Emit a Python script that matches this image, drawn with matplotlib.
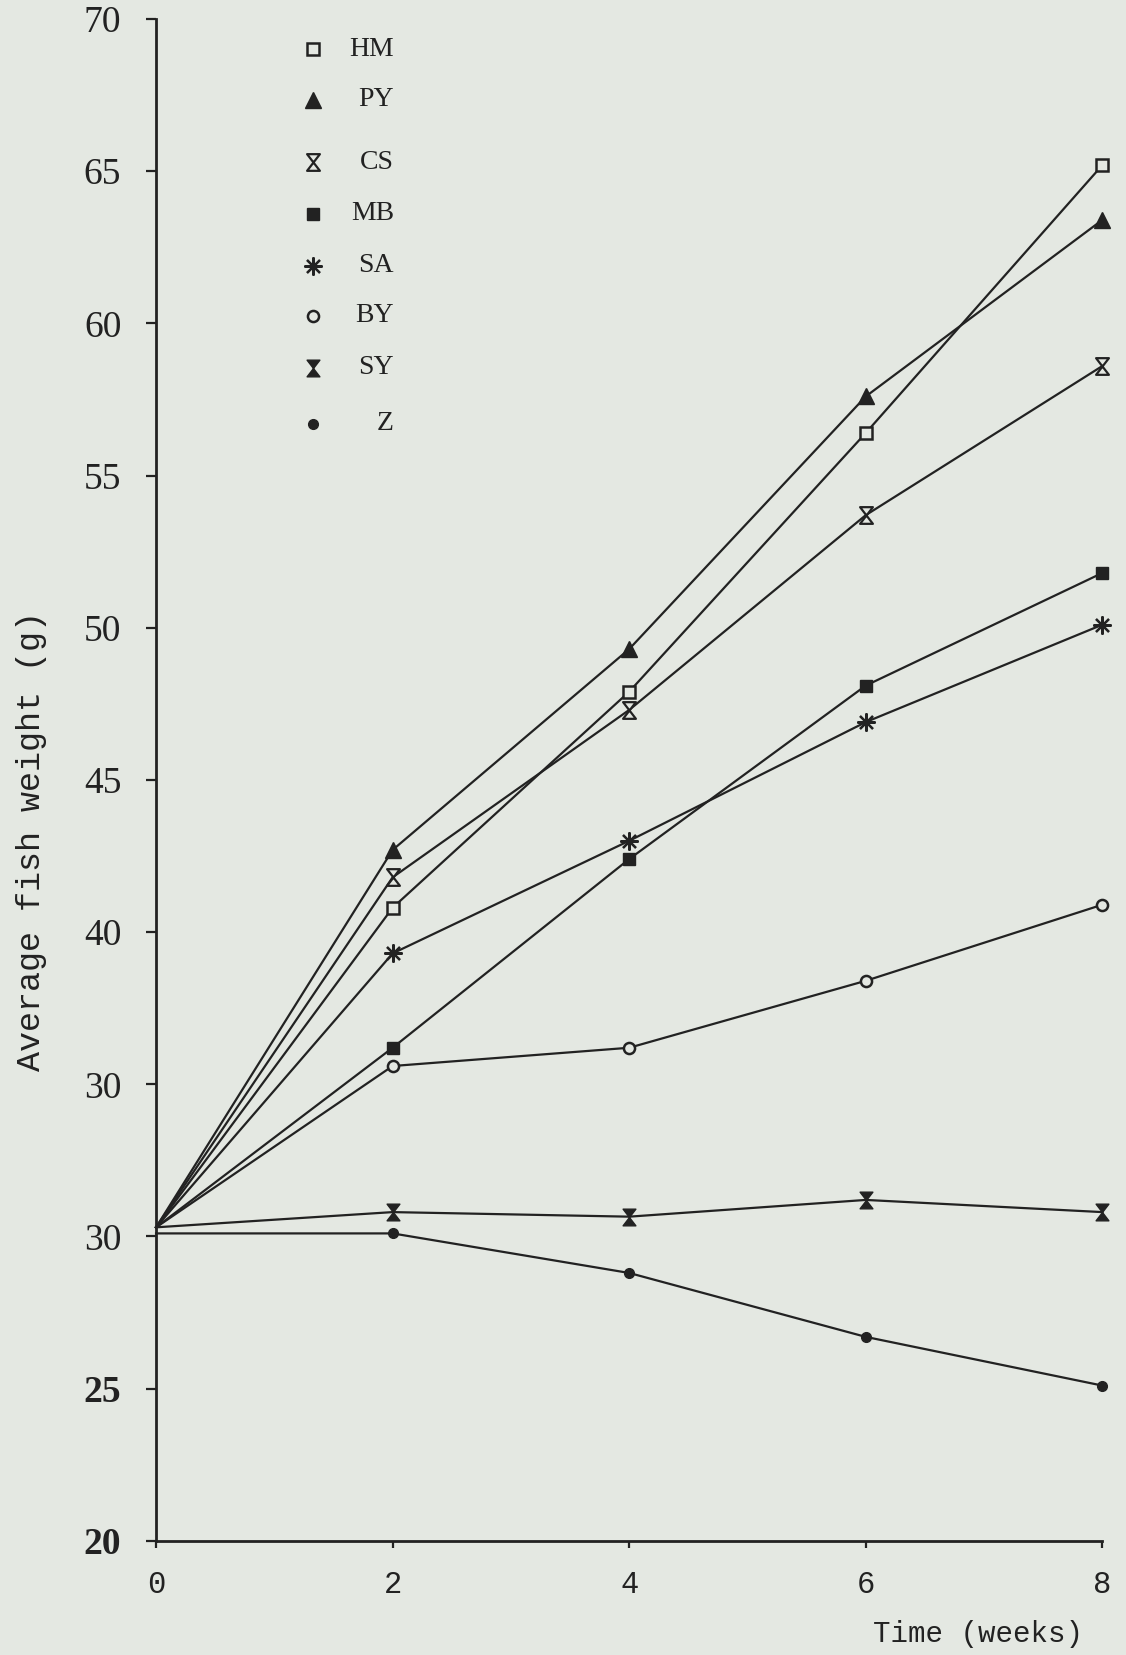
import matplotlib
matplotlib.use("Agg")
import matplotlib.pyplot as plt
from matplotlib.path import Path

# data
weeks = [0, 2, 4, 6, 8]
labels = ["HM", "PY", "CS", "MB", "SA", "BY", "SY", "Z"]
hm = [30.3, 40.8, 47.9, 56.4, 65.2]
py = [30.3, 42.7, 49.3, 57.6, 63.4]
cs = [30.3, 41.8, 47.3, 53.7, 58.6]
mb = [30.3, 36.2, 42.4, 48.1, 51.8]
sa = [30.3, 39.3, 43.0, 46.9, 50.1]
by = [30.3, 35.6, 36.2, 38.4, 40.9]
sy = [30.3, 30.8, 30.65, 31.2, 30.8]
z = [30.1, 30.1, 28.8, 26.7, 25.1]
y_ticks = [20, 25, 30, 35, 40, 45, 50, 55, 60, 65, 70]
y_ticklabels = ["20", "25", "30", "30", "40", "45", "50", "55", "60", "65", "70"]
x_ticks = [0, 2, 4, 6, 8]

INK = "#222222"
PAPER = "#e4e8e2"
SERIF = "Liberation Serif"
MONO = "Liberation Mono"

# hourglass marker (two triangles tip to tip)
hourglass = Path([(-1, 1.3), (1, 1.3), (0, 0), (-1, -1.3), (1, -1.3), (0, 0), (-1, 1.3)],
                 [Path.MOVETO, Path.LINETO, Path.LINETO, Path.LINETO, Path.LINETO,
                  Path.LINETO, Path.CLOSEPOLY])

styles = [
    dict(marker="s", ms=8, mfc=PAPER, mew=1.8),
    dict(marker="^", ms=11, mfc=INK, mew=1.0),
    dict(marker=hourglass, ms=12, mfc=PAPER, mew=1.6),
    dict(marker="s", ms=9, mfc=INK, mew=1.0),
    dict(marker=(8, 2, 0), ms=13, mfc=INK, mew=1.6),
    dict(marker="o", ms=8, mfc=PAPER, mew=1.8),
    dict(marker=hourglass, ms=12, mfc=INK, mew=1.0),
    dict(marker="o", ms=7, mfc=INK, mew=1.0),
]
series = [hm, py, cs, mb, sa, by, sy, z]

fig = plt.figure(figsize=(11.26, 16.55), dpi=100, facecolor=PAPER)
ax = fig.add_axes([0.1386, 0.069, 0.8404, 0.9195])
ax.set_facecolor(PAPER)

# the original has no symbol at week 0, lines just meet there
for vals, st in zip(series, styles):
    ax.plot(weeks, vals, color=INK, lw=1.6, mec=INK, clip_on=False, zorder=3,
            markevery=[1, 2, 3, 4], **st)

ax.set_xlim(0, 8)
ax.set_ylim(20, 70)
for side in ["top", "right"]:
    ax.spines[side].set_visible(False)
for side in ["left", "bottom"]:
    ax.spines[side].set_color(INK)
    ax.spines[side].set_linewidth(2.0)

ax.set_yticks(y_ticks)
ax.set_yticklabels(y_ticklabels)
ax.tick_params(axis="y", direction="out", length=7, width=1.6, color=INK, pad=18,
               labelcolor=INK)
for lab in ax.get_yticklabels():
    lab.set_fontfamily(SERIF)
    lab.set_fontsize(27)
    if lab.get_text() in ("20", "25"):
        lab.set_fontweight("bold")

ax.set_xticks(x_ticks)
ax.set_xticklabels([str(v) for v in x_ticks], fontfamily=MONO, fontsize=22)
ax.tick_params(axis="x", direction="out", length=5, width=1.6, color=INK, pad=16,
               labelcolor=INK)

# legend, hand placed like the original
rows = [0.980, 0.947, 0.906, 0.872, 0.838, 0.805, 0.771, 0.734]
for name, st, yy in zip(labels, styles, rows):
    ax.plot([0.1658], [yy], transform=ax.transAxes, color=INK, mec=INK,
            clip_on=False, ls="none", **st)
    ax.text(0.2513, yy, name, transform=ax.transAxes, ha="right", va="center",
            fontfamily=SERIF, fontsize=20, color=INK)

fig.text(0.0284, 0.4918, "Average fish weight (g)", rotation=90, ha="center",
         va="center", fontfamily=MONO, fontsize=24, color=INK)
fig.text(0.8686, 0.0127, "Time (weeks)", ha="center", va="center",
         fontfamily=MONO, fontsize=21, color=INK)

fig.savefig("out.png", dpi=100, facecolor=PAPER)
